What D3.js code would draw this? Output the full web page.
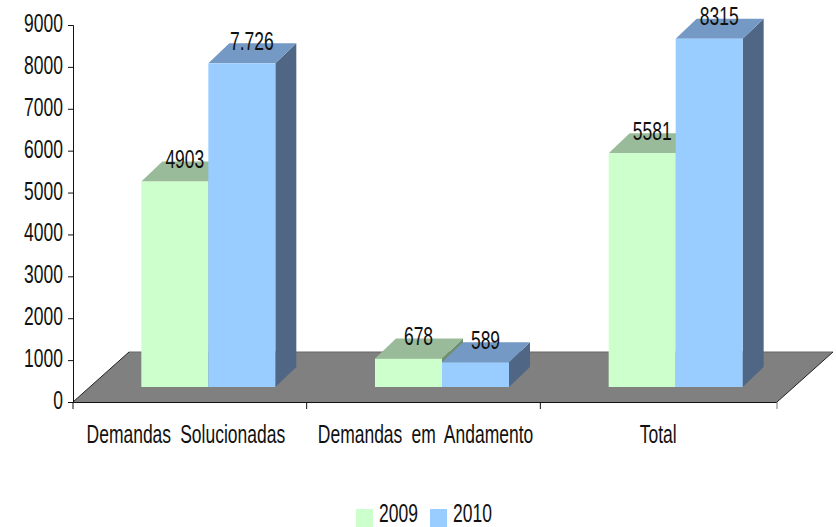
<!DOCTYPE html>
<html>
<head>
<meta charset="utf-8">
<script src="https://cdn.jsdelivr.net/npm/d3@7"></script>
<style>
  html, body { margin: 0; padding: 0; background: #fff; }
  svg { display: block; }
  text { font-family: "Liberation Sans", sans-serif; fill: #111; }
</style>
</head>
<body>
<script>
const categories = ["Demandas Solucionadas", "Demandas em Andamento", "Total"];
const years = ["2009", "2010"];
const values2009 = [4903, 678, 5581];
const values2010 = [7726, 589, 8315];
const labels2009 = ["4903", "678", "5581"];
const labels2010 = ["7.726", "589", "8315"];
const yTicks = [0, 1000, 2000, 3000, 4000, 5000, 6000, 7000, 8000, 9000];

const chartW = 836, chartH = 527;
const plotLeft = 73, plotRight = 777, plotBottom = 402, plotTop = 25;
// 3d look: how far the back of things sits from the front
const depthX = 21, depthY = 20;
const floorX = 56, floorY = 50;
const baseLift = 15;
const fontSize = 25, squeeze = 0.7;

const colors = {
  "2009": {front: "#ccffcc", top: "#99bb99", side: "#6f8f6f"},
  "2010": {front: "#99ccff", top: "#7399c4", side: "#4f6685"}
};

let svg = d3.select("body").append("svg")
    .attr("width", chartW)
    .attr("height", chartH);

let xScale = d3.scaleBand()
    .domain(categories)
    .range([plotLeft, 774]);
let barScale = d3.scaleBand()
    .domain(years)
    .range([0, 134]);
let yScale = d3.scaleLinear()
    .domain([0, 9000])
    .range([plotBottom, plotTop]);

// no narrow font here, so squash the text sideways around its own x
function narrow(sel) {
  sel.each(function() {
    let t = d3.select(this);
    let x = +t.attr("x") || 0;
    t.attr("x", 0)
        .attr("font-size", fontSize)
        .attr("transform", `translate(${x}, 0) scale(${squeeze}, 1)`);
  });
}

function drawFloor() {
  let pts = [[plotLeft, plotBottom], [plotLeft + floorX, plotBottom - floorY], [plotRight + floorX, plotBottom - floorY], [plotRight, plotBottom]];
  svg.append("path")
      .attr("d", d3.line()(pts) + "Z")
      .attr("fill", "#808080");
  svg.append("path")
      .attr("d", d3.line()(pts.slice(1, 3)))
      .attr("stroke", "#666")
      .attr("stroke-width", 1)
      .attr("fill", "none");
  svg.append("path")
      .attr("d", d3.line()([pts[0], pts[1]]))
      .attr("stroke", "#222")
      .attr("fill", "none");
  svg.append("path")
      .attr("d", d3.line()([pts[3], pts[2]]))
      .attr("stroke", "#222")
      .attr("fill", "none");
}

function drawBars(year, values, labels) {
  let c = colors[year];
  let g = svg.append("g");
  let rows = categories.map((cat, i) => {
    let x0 = xScale(cat) + xScale.bandwidth() / 2 + 18.5 - 67 + barScale(year);
    let h = plotBottom - yScale(values[i]);
    let y1 = plotBottom - baseLift;
    return {x0: x0, x1: x0 + barScale.bandwidth(), y0: y1 - h, y1: y1, label: labels[i]};
  });

  g.selectAll(".side").data(rows).enter().append("path")
      .attr("fill", c.side)
      .attr("d", d => d3.line()([[d.x1, d.y0], [d.x1 + depthX, d.y0 - depthY], [d.x1 + depthX, d.y1 - depthY], [d.x1, d.y1]]) + "Z");
  g.selectAll(".top").data(rows).enter().append("path")
      .attr("fill", c.top)
      .attr("d", d => d3.line()([[d.x0, d.y0], [d.x0 + depthX, d.y0 - depthY], [d.x1 + depthX, d.y0 - depthY], [d.x1, d.y0]]) + "Z");
  g.selectAll(".front").data(rows).enter().append("rect")
      .attr("fill", c.front)
      .attr("x", d => d.x0)
      .attr("y", d => d.y0)
      .attr("width", d => d.x1 - d.x0)
      .attr("height", d => d.y1 - d.y0);
  return rows;
}

function drawLabels(rows) {
  svg.append("g").selectAll("g").data(rows).enter().append("g")
      .attr("transform", d => `translate(0, ${d.y0 - 13.5})`)
      .append("text")
      .attr("x", d => (d.x0 + d.x1) / 2 + 10)
      .attr("text-anchor", "middle")
      .text(d => d.label)
      .call(narrow);
}

function drawAxes() {
  let yAxis = d3.axisLeft(yScale).tickValues(yTicks).tickFormat(d3.format("d")).tickSize(5).tickPadding(5);
  let gy = svg.append("g").attr("transform", `translate(${plotLeft}, 0)`).call(yAxis);
  gy.attr("font-family", null).attr("font-size", null);
  gy.selectAll("text").attr("dy", "0.26em").call(narrow);
  gy.selectAll("line, path").attr("stroke", "#111");

  let xAxis = d3.axisBottom(xScale).tickSize(0).tickPadding(23);
  let gx = svg.append("g").attr("transform", `translate(0, ${plotBottom})`).call(xAxis);
  gx.attr("font-family", null).attr("font-size", null);
  gx.selectAll("text")
      .attr("dy", "0.71em")
      .attr("word-spacing", 6)
      .attr("x", (d, i) => [-4, 2, 1][i])
      .call(narrow);
  gx.select(".domain").attr("stroke", "#111").attr("d", `M${plotLeft},0.5H${plotRight}`);

  // category separators are the band edges
  svg.append("g").selectAll("line")
      .data(xScale.domain().map(d => xScale(d)).concat(plotRight))
      .enter().append("line")
      .attr("x1", d => d).attr("x2", d => d)
      .attr("y1", plotBottom).attr("y2", plotBottom + 7)
      .attr("stroke", (d, i) => i === 3 ? "#777" : "#111");
}

function drawLegend() {
  let legendX = d3.scalePoint().domain(years).range([356, 430]);
  let g = svg.append("g").selectAll("g").data(years).enter().append("g")
      .attr("transform", d => `translate(${legendX(d)}, 509)`);
  g.append("rect")
      .attr("width", 17).attr("height", 18)
      .attr("fill", d => colors[d].front);
  // baseline kept a bit high so the text box stays inside the window
  g.append("g")
      .attr("transform", "translate(0, 12.5)")
      .append("text")
      .attr("x", 23)
      .text(d => d)
      .call(narrow);
}

drawFloor();
let rows2009 = drawBars("2009", values2009, labels2009);
let rows2010 = drawBars("2010", values2010, labels2010);
drawAxes();
drawLabels(rows2009.concat(rows2010));
drawLegend();
</script>
</body>
</html>
